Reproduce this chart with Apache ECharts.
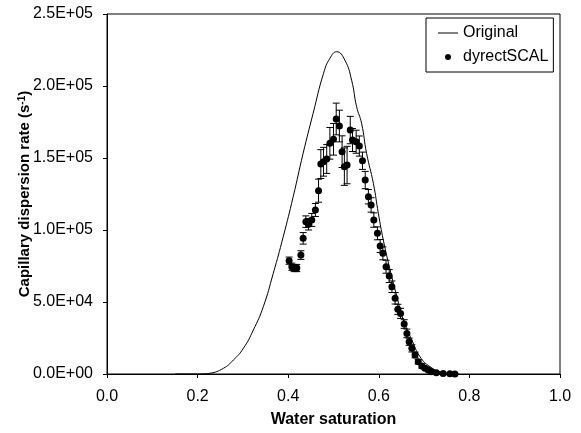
<!DOCTYPE html>
<html>
<head>
<meta charset="utf-8">
<script src="https://cdn.jsdelivr.net/npm/echarts@6/dist/echarts.min.js"></script>
<style>html,body{margin:0;padding:0;background:#fff;}#c{width:581px;height:433px;}</style>
</head>
<body>
<div id="c"></div>
<script>
// Original curve
const origX = [0.15, 0.20, 0.215, 0.227, 0.257, 0.279, 0.301, 0.323, 0.345, 0.367, 0.389, 0.411, 0.433, 0.455, 0.478, 0.492, 0.507, 0.525, 0.540, 0.551, 0.562, 0.573, 0.588, 0.599, 0.610, 0.625, 0.640, 0.654, 0.673, 0.691, 0.713, 0.742, 0.765];
const origY = [0, 0, 150, 500, 3950, 9700, 17800, 30500, 46700, 69900, 95300, 123100, 153300, 181000, 208800, 219200, 223800, 218000, 204000, 185600, 174100, 153300, 132400, 111600, 93000, 72200, 53700, 37500, 23600, 12000, 5100, 900, 0];

// dyrectSCAL points with error half-widths
const scalX = [0.402, 0.408, 0.413, 0.419, 0.428, 0.433, 0.439, 0.445, 0.452, 0.460, 0.467, 0.472, 0.478, 0.485, 0.492, 0.500, 0.506, 0.513, 0.519, 0.524, 0.530, 0.537, 0.542, 0.550, 0.557, 0.564, 0.570, 0.577, 0.583, 0.589, 0.597, 0.603, 0.609, 0.616, 0.623, 0.629, 0.636, 0.642, 0.648, 0.656, 0.662, 0.667, 0.673, 0.680, 0.687, 0.695, 0.702, 0.709, 0.716, 0.727, 0.742, 0.757, 0.768];
const scalY = [78700, 74500, 73600, 73600, 82600, 94200, 105800, 104000, 107000, 113900, 127300, 145800, 147400, 149300, 160200, 163000, 177100, 172200, 154400, 144000, 145100, 169400, 162500, 161300, 158300, 148100, 134700, 123100, 117400, 106900, 97700, 88900, 83800, 74500, 68000, 60600, 52600, 44900, 42100, 34700, 28200, 22400, 17800, 13200, 8500, 5600, 4000, 2800, 1500, 800, 300, 100, 0];
const scalErr = [2500, 2500, 2500, 2500, 3000, 4000, 4000, 4000, 4500, 4500, 8000, 10000, 10000, 10000, 11000, 11000, 11000, 11000, 11000, 13000, 13000, 9500, 8000, 8000, 7000, 6000, 6000, 5000, 5000, 5000, 4500, 4500, 4500, 4500, 4500, 4000, 4000, 3500, 3500, 3000, 3000, 2500, 2500, 2000, 1500, 1500, 1000, 1000, 800, 500, 300, 200, 100];

// axis ticks
const xTicks = {min: 0, max: 1, interval: 0.2};
const yTicks = {min: 0, max: 250000, interval: 50000};

const FONT = "'Liberation Sans', Arial, sans-serif";

function sci(v) {
  if (v === 0) return '0.0E+00';
  const e = Math.floor(Math.log10(v) + 1e-9);
  const m = v / Math.pow(10, e);
  return m.toFixed(1) + 'E+' + String(e).padStart(2, '0');
}

const lineData = origX.map((x, i) => [x, origY[i]]);
const scatData = scalX.map((x, i) => [x, scalY[i]]);
const errData = scalX.map((x, i) => [x, scalY[i] - scalErr[i], scalY[i] + scalErr[i]]);

const chart = echarts.init(document.getElementById('c'), null, {renderer: 'canvas'});
chart.setOption({
  animation: false,
  backgroundColor: '#fff',
  textStyle: {fontFamily: FONT},
  grid: {left: 107, right: 21, top: 14, bottom: 59, show: true, borderColor: '#000', borderWidth: 1, backgroundColor: 'transparent'},
  legend: {
    left: 426, top: 18, orient: 'vertical',
    borderColor: '#000', borderWidth: 1, borderRadius: 0,
    padding: [7, 5, 7, 12], itemGap: 8, itemWidth: 20, itemHeight: 6,
    textStyle: {fontSize: 16, color: '#000', fontFamily: FONT},
    data: [
      {name: 'Original', icon: 'path://M0,0 L20,0 L20,1 L0,1 Z', itemStyle: {color: '#000'}},
      {name: 'dyrectSCAL', icon: 'circle', itemStyle: {color: '#000'}}
    ]
  },
  xAxis: {
    type: 'value', min: xTicks.min, max: xTicks.max, interval: xTicks.interval,
    axisLine: {show: true, lineStyle: {color: '#000', width: 1}},
    axisTick: {show: true, inside: false, length: 4, lineStyle: {color: '#000'}},
    splitLine: {show: false},
    axisLabel: {fontSize: 16, color: '#000', margin: 15, fontFamily: FONT, formatter: v => v.toFixed(1)},
    name: 'Water saturation', nameLocation: 'middle', nameGap: 38, nameMoveOverlap: false,
    nameTextStyle: {fontSize: 16, fontWeight: 'bold', color: '#000', fontFamily: FONT}
  },
  yAxis: {
    type: 'value', min: yTicks.min, max: yTicks.max, interval: yTicks.interval,
    axisLine: {show: true, lineStyle: {color: '#000', width: 1}},
    axisTick: {show: true, inside: false, length: 4, lineStyle: {color: '#000'}},
    splitLine: {show: false},
    axisLabel: {fontSize: 16, color: '#000', margin: 14, fontFamily: FONT, formatter: sci},
    name: 'Capillary dispersion rate (s{sup|-1})', nameLocation: 'middle', nameGap: 75, nameRotate: 90,
    nameMoveOverlap: false,
    nameTextStyle: {fontSize: 15, fontWeight: 'bold', color: '#000', fontFamily: FONT,
      rich: {sup: {fontSize: 10, fontWeight: 'bold', color: '#000', verticalAlign: 'top', fontFamily: FONT}}}
  },
  series: [
    {
      name: 'Original', type: 'line', data: lineData, showSymbol: false, symbol: 'none',
      smooth: 0.5,
      lineStyle: {color: '#000', width: 1}, itemStyle: {color: '#000'}, z: 2
    },
    {
      name: 'err', type: 'custom', data: errData, z: 3,
      renderItem: function (params, api) {
        const x = api.value(0);
        const lo = api.coord([x, api.value(1)]);
        const hi = api.coord([x, api.value(2)]);
        const hw = 3.5;
        const st = {stroke: '#000', lineWidth: 1, fill: null};
        return {
          type: 'group',
          children: [
            {type: 'line', shape: {x1: lo[0], y1: lo[1], x2: hi[0], y2: hi[1]}, style: st},
            {type: 'line', shape: {x1: lo[0] - hw, y1: lo[1], x2: lo[0] + hw, y2: lo[1]}, style: st},
            {type: 'line', shape: {x1: hi[0] - hw, y1: hi[1], x2: hi[0] + hw, y2: hi[1]}, style: st}
          ]
        };
      }
    },
    {
      name: 'dyrectSCAL', type: 'scatter', data: scatData, symbol: 'circle', symbolSize: 7,
      itemStyle: {color: '#000', opacity: 1}, z: 4
    }
  ]
});
</script>
</body>
</html>
